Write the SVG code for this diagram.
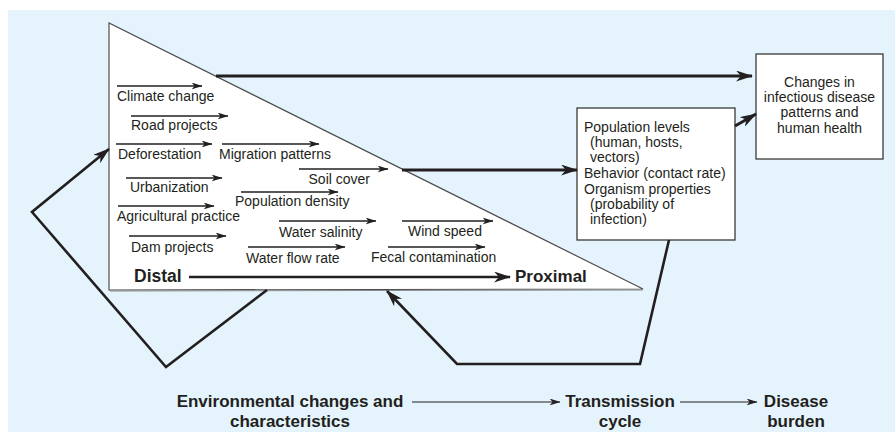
<svg xmlns="http://www.w3.org/2000/svg" width="895" height="432" viewBox="0 0 895 432">
<defs>
<style>
text{font-family:"Liberation Sans",Arial,sans-serif;fill:#231f20}
.lbl{font-size:14px}
.bx{font-size:14px}
.bold{font-weight:bold;font-size:17px}
.ia{stroke:#231f20;stroke-width:1.4;fill:none;marker-end:url(#sm)}
.thick{stroke:#231f20;stroke-width:3;fill:none;marker-end:url(#big)}
.loop{stroke:#231f20;stroke-width:2.6;fill:none;stroke-linejoin:miter;marker-end:url(#big)}
.thin{stroke:#231f20;stroke-width:1.2;fill:none;marker-end:url(#tn)}
</style>
<marker id="big" markerUnits="userSpaceOnUse" viewBox="0 0 17 11" markerWidth="17" markerHeight="11" refX="16" refY="5.5" orient="auto"><path d="M0,0 L17,5.5 L0,11 L5,5.5 z" fill="#231f20"/></marker>
<marker id="sm" markerUnits="userSpaceOnUse" viewBox="0 0 11 7" markerWidth="11" markerHeight="7" refX="10.5" refY="3.5" orient="auto"><path d="M0,0 L11,3.5 L0,7 L3,3.5 z" fill="#231f20"/></marker>
<marker id="tn" markerUnits="userSpaceOnUse" viewBox="0 0 11 7" markerWidth="11" markerHeight="7" refX="10.5" refY="3.5" orient="auto"><path d="M0,0 L11,3.5 L0,7 L3,3.5 z" fill="#231f20"/></marker>
</defs>
<rect x="8" y="10" width="887" height="422" fill="#e5f4fc"/>

<g id="environment">
<polygon points="109,23 109,290 643,289" fill="#fff" stroke="#4d4d4d" stroke-width="1.2"/>
<line x1="110" y1="291" x2="643" y2="290" stroke="#8a8a8a" stroke-width="1"/>
<line class="ia" x1="117" y1="86" x2="202" y2="86"/>
<text class="lbl" x="117" y="101">Climate change</text>
<line class="ia" x1="131" y1="116" x2="228" y2="116"/>
<text class="lbl" x="131" y="130">Road projects</text>
<line class="ia" x1="116" y1="144" x2="212" y2="144"/>
<text class="lbl" x="118" y="159">Deforestation</text>
<line class="ia" x1="222" y1="144" x2="319" y2="144"/>
<text class="lbl" x="219" y="159">Migration patterns</text>
<line class="ia" x1="126" y1="178" x2="222" y2="178"/>
<text class="lbl" x="130" y="192">Urbanization</text>
<line class="ia" x1="299" y1="169" x2="388" y2="169"/>
<text class="lbl" x="370" y="184" text-anchor="end">Soil cover</text>
<line class="ia" x1="241" y1="192" x2="338" y2="192"/>
<text class="lbl" x="235" y="206">Population density</text>
<line class="ia" x1="118" y1="206" x2="214" y2="206"/>
<text class="lbl" x="117" y="221">Agricultural practice</text>
<line class="ia" x1="279" y1="221" x2="376" y2="221"/>
<text class="lbl" x="279" y="237">Water salinity</text>
<line class="ia" x1="402" y1="221" x2="493" y2="221"/>
<text class="lbl" x="408" y="236">Wind speed</text>
<line class="ia" x1="129" y1="236" x2="226" y2="236"/>
<text class="lbl" x="131" y="252">Dam projects</text>
<line class="ia" x1="248" y1="247" x2="345" y2="247"/>
<text class="lbl" x="246" y="263">Water flow rate</text>
<line class="ia" x1="388" y1="247" x2="485" y2="247"/>
<text class="lbl" x="371" y="262">Fecal contamination</text>
<text class="bold" x="134" y="282" style="font-size:17.5px">Distal</text>
<line x1="189" y1="277" x2="510" y2="277" stroke="#231f20" stroke-width="2.6" marker-end="url(#big)"/>
<text class="bold" x="515" y="282">Proximal</text>
</g>

<g id="transmission">
<rect x="577" y="108" width="158" height="132" fill="#fff" stroke="#3a3a3a" stroke-width="1.3"/>
<text class="bx" x="584" y="132">Population levels</text>
<text class="bx" x="590" y="147">(human, hosts,</text>
<text class="bx" x="590" y="162">vectors)</text>
<text class="bx" x="584" y="178">Behavior (contact rate)</text>
<text class="bx" x="584" y="194">Organism properties</text>
<text class="bx" x="590" y="209">(probability of</text>
<text class="bx" x="590" y="224">infection)</text>
</g>

<g id="disease">
<rect x="756" y="54" width="127" height="105" fill="#fff" stroke="#3a3a3a" stroke-width="1.3"/>
<text class="bx" x="819.5" y="87" text-anchor="middle">Changes in</text>
<text class="bx" x="819.5" y="102" text-anchor="middle">infectious disease</text>
<text class="bx" x="819.5" y="117" text-anchor="middle">patterns and</text>
<text class="bx" x="819.5" y="133" text-anchor="middle">human health</text>
</g>

<g id="connectors">
<line class="thick" x1="216" y1="76" x2="752" y2="76"/>
<line class="thick" x1="402" y1="170" x2="577" y2="170"/>
<line class="thick" x1="735" y1="126" x2="756" y2="114"/>
<polyline class="loop" points="669,240 640,364 457,364 387,291"/>
<polyline class="loop" points="267,290 166,367 32,212 109,149"/>
</g>

<g id="axis">
<text class="bold" x="290" y="407" text-anchor="middle">Environmental changes and</text>
<text class="bold" x="290" y="427" text-anchor="middle">characteristics</text>
<line class="thin" x1="412" y1="402" x2="560" y2="402"/>
<text class="bold" x="620" y="407" text-anchor="middle">Transmission</text>
<text class="bold" x="620" y="427" text-anchor="middle">cycle</text>
<line class="thin" x1="680" y1="402" x2="757" y2="402"/>
<text class="bold" x="796" y="407" text-anchor="middle">Disease</text>
<text class="bold" x="796" y="427" text-anchor="middle">burden</text>
</g>
</svg>
